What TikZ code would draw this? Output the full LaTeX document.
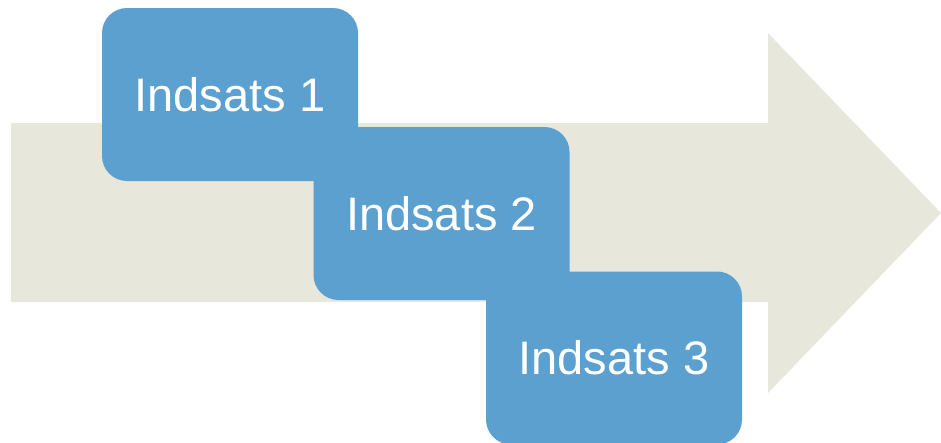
\documentclass[tikz,border=0pt]{standalone}
\usepackage{fontspec}
\setmainfont{Liberation Sans}
\usetikzlibrary{positioning}
\definecolor{stepblue}{HTML}{5BA0CE}
\definecolor{arrowgrey}{HTML}{E8E7DC}

\begin{document}
\begin{tikzpicture}[x=1pt, y=-1pt,
    stepbox/.style={rectangle, rounded corners=25pt, minimum width=256pt, minimum height=173pt,
        inner sep=0pt, fill=stepblue, text=white, font=\fontsize{47}{50}\selectfont}]
\useasboundingbox (0,0) rectangle (941,442);
% the big arrow behind
\fill[arrowgrey] (11,123) -- (768,123) -- (768,33) -- (941,213) -- (768,393) -- (768,302) -- (11,302) -- cycle;
% the three steps
\node[stepbox] (indsats1) at (230,94.5) {Indsats 1};
\node[stepbox] (indsats2) at (441.5,213.5) {Indsats 2};
\node[stepbox] (indsats3) at (614,358) {Indsats 3};
\end{tikzpicture}
\end{document}
